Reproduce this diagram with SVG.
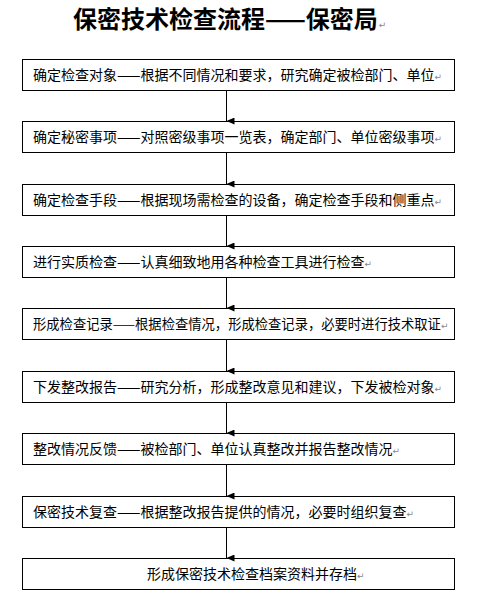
<svg xmlns="http://www.w3.org/2000/svg" width="482" height="611" viewBox="0 0 482 611">
<style>
.box{fill:#fff;stroke:#000;stroke-width:1}
.t{font-family:"Noto Sans CJK SC","Noto Sans",sans-serif;font-size:14px;fill:#000}
.title{font-family:"Noto Sans CJK SC","Noto Sans",sans-serif;font-size:24px;font-weight:bold;fill:#000}
.pm{font-family:"DejaVu Sans",sans-serif;font-size:9px;fill:#888;font-weight:normal}
.conn line{stroke:#000;stroke-width:1}
</style>
<defs>
<marker id="ah" markerWidth="7" markerHeight="8" refX="3.5" refY="8" orient="auto-start-reverse" markerUnits="userSpaceOnUse" viewBox="0 0 7 8">
<path d="M0,0 L7,0 L3.5,8 Z" fill="#000"/>
</marker>
</defs>
<rect width="482" height="611" fill="#fff"/>
<g id="title"><text class="title" x="73" y="28">保密技术检查流程——保密局<tspan class="pm" dx="1">↵</tspan></text></g>
<g id="n1"><rect class="box" x="22.5" y="59.5" width="432" height="31"/><text class="t" x="33" y="80">确定检查对象——根据不同情况和要求，研究确定被检部门、单位<tspan class="pm">↵</tspan></text></g>
<g id="n2"><rect class="box" x="22.5" y="121.5" width="432" height="31"/><text class="t" x="33" y="142">确定秘密事项——对照密级事项一览表，确定部门、单位密级事项<tspan class="pm">↵</tspan></text></g>
<g id="n3"><rect class="box" x="22.5" y="184.5" width="432" height="31"/><text class="t" x="33" y="205">确定检查手段——根据现场需检查的设备，确定检查手段和侧重点<tspan class="pm">↵</tspan></text></g>
<g id="n4"><rect class="box" x="22.5" y="246.5" width="432" height="31"/><text class="t" x="33" y="267">进行实质检查——认真细致地用各种检查工具进行检查<tspan class="pm">↵</tspan></text></g>
<g id="n5"><rect class="box" x="22.5" y="308.5" width="432" height="31"/><text class="t" x="33" y="329" style="font-size:13.3px">形成检查记录——根据检查情况，形成检查记录，必要时进行技术取证<tspan class="pm">↵</tspan></text></g>
<g id="n6"><rect class="box" x="22.5" y="371.5" width="432" height="31"/><text class="t" x="33" y="392">下发整改报告——研究分析，形成整改意见和建议，下发被检对象<tspan class="pm">↵</tspan></text></g>
<g id="n7"><rect class="box" x="22.5" y="433.5" width="432" height="31"/><text class="t" x="33" y="454">整改情况反馈——被检部门、单位认真整改并报告整改情况<tspan class="pm">↵</tspan></text></g>
<g id="n8"><rect class="box" x="22.5" y="496.5" width="432" height="31"/><text class="t" x="33" y="517">保密技术复查——根据整改报告提供的情况，必要时组织复查<tspan class="pm">↵</tspan></text></g>
<g id="n9"><rect class="box" x="22.5" y="558.5" width="432" height="31"/><text class="t" x="147" y="579">形成保密技术检查档案资料并存档<tspan class="pm">↵</tspan></text></g>
<g id="connectors" class="conn">
<line x1="226.5" y1="90.5" x2="226.5" y2="121" marker-end="url(#ah)"/>
<line x1="226.5" y1="152.5" x2="226.5" y2="184" marker-end="url(#ah)"/>
<line x1="226.5" y1="215.5" x2="226.5" y2="246" marker-end="url(#ah)"/>
<line x1="226.5" y1="277.5" x2="226.5" y2="308" marker-end="url(#ah)"/>
<line x1="226.5" y1="339.5" x2="226.5" y2="371" marker-end="url(#ah)"/>
<line x1="226.5" y1="402.5" x2="226.5" y2="433" marker-end="url(#ah)"/>
<line x1="226.5" y1="464.5" x2="226.5" y2="496" marker-end="url(#ah)"/>
<line x1="226.5" y1="527.5" x2="226.5" y2="558" marker-end="url(#ah)"/>
</g>
</svg>
